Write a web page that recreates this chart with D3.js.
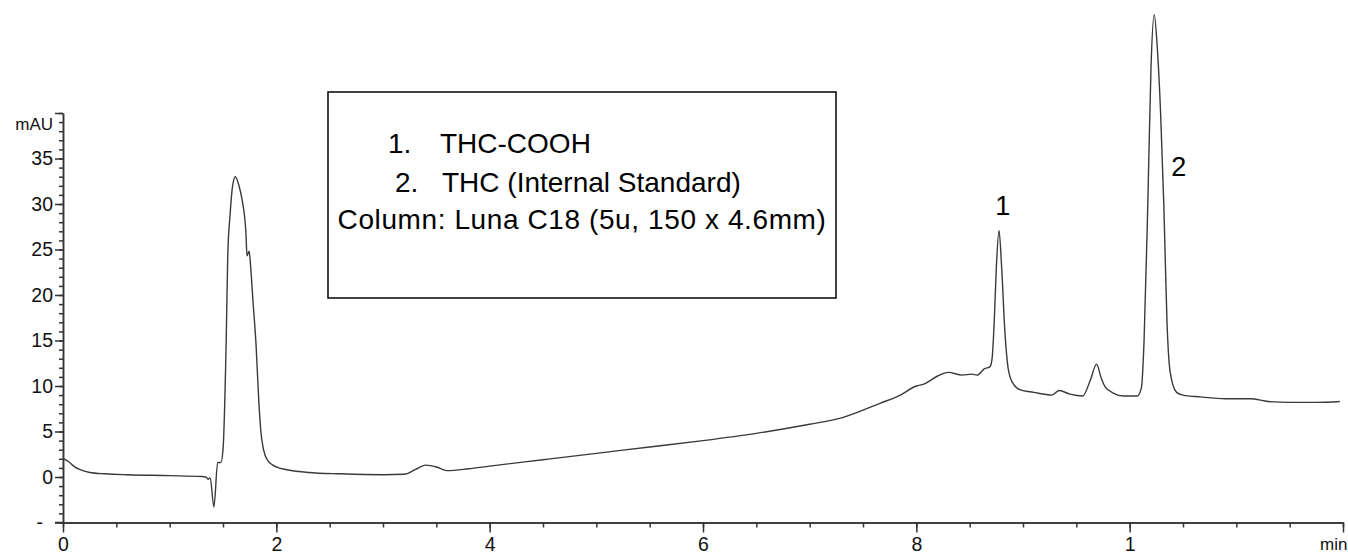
<!DOCTYPE html>
<html>
<head>
<meta charset="utf-8">
<script src="https://cdn.jsdelivr.net/npm/d3@7"></script>
<style>
  body { margin: 0; background: #fff; }
  svg { display: block; font-family: "Liberation Sans", Arial, sans-serif; }
</style>
</head>
<body>
<div id="chart"></div>
<script>
// chromatogram trace: [time (min), absorbance (mAU)]
let trace = [
  [0.00, 2.05], [0.05, 1.7], [0.10, 1.2], [0.16, 0.8], [0.25, 0.5], [0.40, 0.35],
  [0.60, 0.25], [1.00, 0.15], [1.30, 0.05], [1.34, 0.0], [1.36, -0.25], [1.38, -0.1],
  [1.415, -3.3], [1.45, 1.6], [1.48, 1.6], [1.50, 3], [1.53, 15], [1.545, 24.5],
  [1.565, 28.6], [1.59, 32], [1.615, 33.0], [1.65, 32], [1.68, 30.4], [1.715, 26.8],
  [1.725, 24.3], [1.745, 24.8], [1.76, 23], [1.78, 19.5], [1.81, 14.5], [1.835, 8.5],
  [1.855, 5.0], [1.88, 3], [1.92, 1.8], [2.00, 1.1], [2.10, 0.8], [2.30, 0.5],
  [2.60, 0.35], [3.00, 0.25], [3.20, 0.3], [3.30, 0.8], [3.40, 1.3], [3.50, 1.1],
  [3.60, 0.7], [3.80, 0.9], [4.00, 1.2], [4.50, 1.9], [5.00, 2.6], [5.50, 3.3],
  [6.00, 4.0], [6.50, 4.8], [7.00, 5.8], [7.30, 6.5], [7.66, 8.1], [7.85, 9.0],
  [8.00, 10.0], [8.07, 10.2], [8.20, 11.1], [8.30, 11.5], [8.43, 11.2], [8.52, 11.3],
  [8.57, 11.2], [8.64, 11.9], [8.69, 12.1], [8.71, 13], [8.73, 17], [8.75, 23],
  [8.775, 27.1], [8.80, 23], [8.83, 16], [8.86, 12], [8.90, 10.4], [8.97, 9.6],
  [9.10, 9.3], [9.27, 9.0], [9.34, 9.5], [9.44, 9.1], [9.56, 8.9], [9.63, 10.6],
  [9.69, 12.4], [9.73, 11.0], [9.77, 9.9], [9.85, 9.2], [9.94, 8.9], [10.07, 8.9],
  [10.11, 9.8], [10.135, 15], [10.17, 30], [10.20, 45], [10.23, 50.8], [10.26, 47],
  [10.29, 40], [10.32, 30], [10.35, 17], [10.38, 11.5], [10.44, 9.3], [10.50, 9.0],
  [10.66, 8.8], [10.90, 8.6], [11.13, 8.6], [11.30, 8.3], [11.50, 8.2], [11.75, 8.2],
  [11.97, 8.3]
]

let xMajor = [0, 2, 4, 6, 8, 10, 12]
let xLabels = ["0", "2", "4", "6", "8", "1", "min"]
let yMajor = [-5, 0, 5, 10, 15, 20, 25, 30, 35]
let yLabels = ["-", "0", "5", "10", "15", "20", "25", "30", "35"]
let yUnit = "mAU"

let peakLabels = [
  [8.80, 1, "1"],
  [10.44, 2, "2"]
]

let legendLines = [
  ["1.", "THC-COOH"],
  ["2.", "THC (Internal Standard)"]
]
let columnText = "Column: Luna C18 (5u, 150 x 4.6mm)"

const W = 1348, H = 556

const svg = d3.select('#chart')
  .append('svg')
  .attr('width', W)
  .attr('height', H)
  .style('background', '#fff')

const x = d3.scaleLinear().domain([0, 12]).range([63, 1343])
const y = d3.scaleLinear().domain([-5, 40]).range([522.5, 113])

// minor ticks first, then the labelled ones on top
svg.append('g')
  .attr('transform', `translate(0,${y(-5)})`)
  .call(d3.axisBottom(x).tickValues(d3.range(0, 12.01, 0.5)).tickSize(5).tickSizeOuter(0).tickFormat(''))

const xAxis = svg.append('g')
  .attr('transform', `translate(0,${y(-5)})`)
  .call(d3.axisBottom(x).tickValues(xMajor).tickSize(10).tickSizeOuter(0).tickPadding(5)
    .tickFormat((d, i) => xLabels[i]))

svg.append('g')
  .attr('transform', `translate(${x(0)},0)`)
  .call(d3.axisLeft(y).tickValues(d3.range(-5, 40.01, 1)).tickSize(4).tickSizeOuter(0).tickFormat(''))

const yAxis = svg.append('g')
  .attr('transform', `translate(${x(0)},0)`)
  .call(d3.axisLeft(y).tickValues(yMajor.concat([40])).tickSize(8).tickSizeOuter(0).tickPadding(2)
    .tickFormat(d => d === 40 ? '' : yLabels[yMajor.indexOf(d)]))

svg.selectAll('.tick text')
  .style('font-size', '19.5px')
  .style('fill', '#111')

xAxis.selectAll('text')
  .filter(d => d === 12)
  .attr('text-anchor', 'end')
  .attr('dx', 4)
  .style('font-size', '17px')

yAxis.selectAll('text')
  .filter(d => d === -5)
  .attr('dx', -10)

svg.append('text')
  .attr('x', 53)
  .attr('y', y(40) + 17)
  .attr('text-anchor', 'end')
  .style('font-size', '17px')
  .style('fill', '#111')
  .text(yUnit)

svg.selectAll('.domain, .tick line')
  .attr('stroke', '#333')
  .attr('stroke-width', 1.5)

// x axis line reaches back to the y axis bottom tick
svg.append('line')
  .attr('x1', 55).attr('x2', x(0))
  .attr('y1', y(-5)).attr('y2', y(-5))
  .attr('stroke', '#333').attr('stroke-width', 1.5)

const line = d3.line()
  .x(d => x(d[0]))
  .y(d => y(d[1]))
  .curve(d3.curveMonotoneX)

svg.append('path')
  .datum(trace)
  .attr('d', line)
  .attr('fill', 'none')
  .attr('stroke', '#3a3a3a')
  .attr('stroke-width', 1.4)

// peak numbers
svg.selectAll('.peak')
  .data(peakLabels)
  .enter()
  .append('text')
  .attr('class', 'peak')
  .attr('x', (d) => d[1] === 1 ? x(8.81) : x(10.46))
  .attr('y', (d) => d[1] === 1 ? 215 : 176)
  .attr('text-anchor', 'middle')
  .style('font-size', '27px')
  .text(d => d[2])

// legend box
svg.append('rect')
  .attr('x', 328).attr('y', 92)
  .attr('width', 508).attr('height', 206)
  .attr('fill', 'none')
  .attr('stroke', '#111')
  .attr('stroke-width', 1.6)

legendLines.forEach((l, i) => {
  svg.append('text')
    .attr('x', i === 0 ? 388 : 395)
    .attr('y', 153 + i * 39)
    .style('font-size', '28px')
    .text(l[0])
  svg.append('text')
    .attr('x', i === 0 ? 440 : 442)
    .attr('y', 153 + i * 39)
    .style('font-size', '28px')
    .text(l[1])
})

svg.append('text')
  .attr('x', 582)
  .attr('y', 229)
  .attr('text-anchor', 'middle')
  .style('font-size', '28px')
  .style('letter-spacing', '0.6px')
  .text(columnText)
</script>
</body>
</html>
